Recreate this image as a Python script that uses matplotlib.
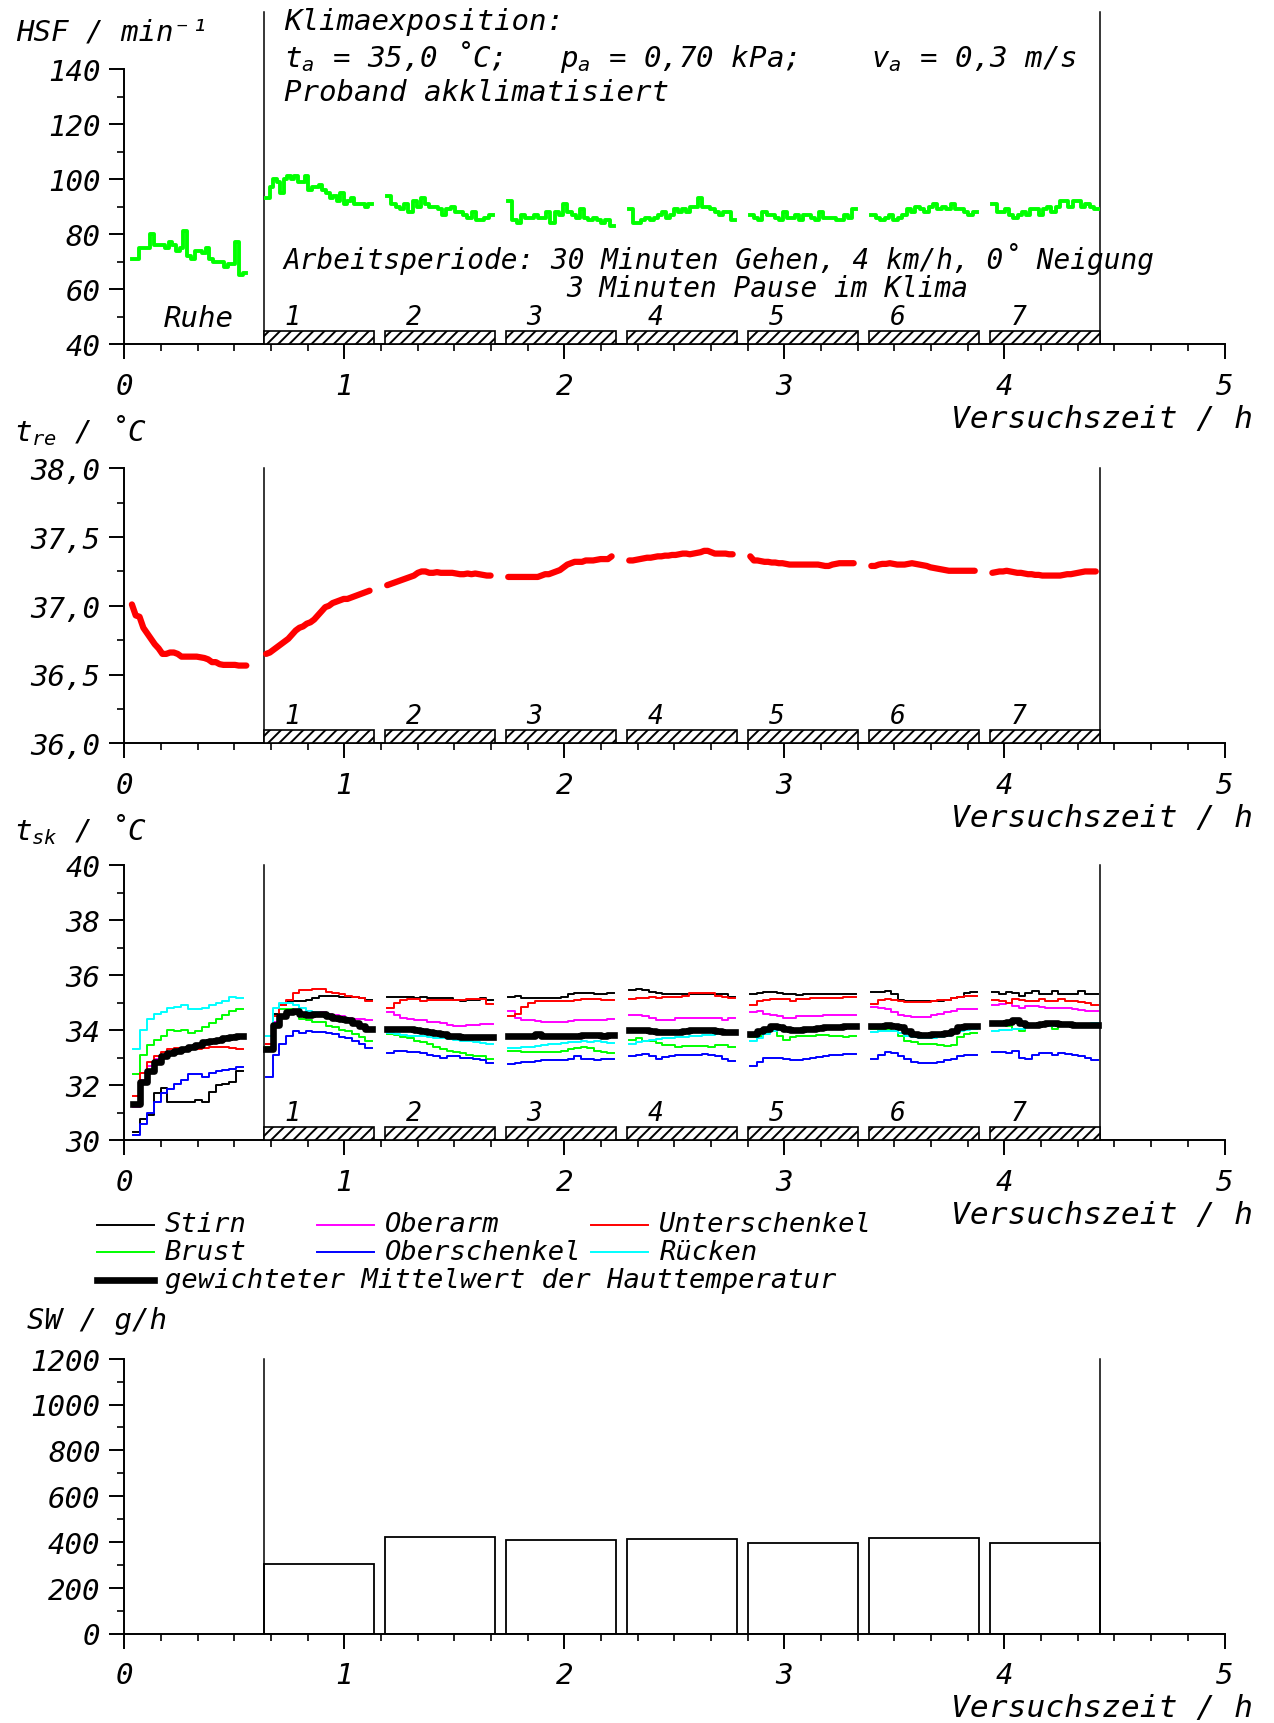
import numpy as np
import matplotlib.pyplot as plt
from matplotlib.lines import Line2D
from matplotlib.ticker import MultipleLocator

plt.rcParams['font.family'] = ['DejaVu Sans Mono', 'DejaVu Sans']
plt.rcParams['font.style'] = 'oblique'
plt.rcParams['mathtext.fontset'] = 'custom'
plt.rcParams['mathtext.rm'] = 'DejaVu Sans Mono:oblique'
plt.rcParams['mathtext.it'] = 'DejaVu Sans Mono:oblique'
plt.rcParams['hatch.linewidth'] = 1.4

# --- time structure (h) ---
work_start = 0.635
work_len = 0.5
pause_len = 0.05
n_work = 7
period_starts = work_start + np.arange(n_work) * (work_len + pause_len)
exp_end = period_starts[-1] + work_len

# --- heart rate HSF / min^-1 ---
hsf_rest = [71, 71, 75, 75, 75, 80, 76, 76, 76, 75, 77, 76, 74, 75, 81, 72,
            71, 74, 74, 73, 75, 71, 70, 70, 70, 68, 69, 69, 77, 65, 66]
hsf_work = [
    [93, 97, 100, 99, 95, 100, 101, 100, 101, 99, 99, 101, 96, 97, 97, 98,
     96, 95, 93, 94, 92, 95, 91, 92, 93, 91, 91, 91, 90, 91],
    [94, 91, 90, 89, 91, 88, 92, 90, 93, 91, 90, 90, 89, 87, 89, 90, 88, 88,
     87, 86, 88, 85, 85, 86, 87],
    [92, 85, 84, 87, 86, 86, 87, 86, 86, 88, 84, 88, 87, 91, 88, 87, 86, 89,
     86, 85, 86, 85, 84, 85, 83],
    [89, 84, 84, 85, 86, 85, 86, 87, 88, 86, 87, 89, 88, 89, 88, 90, 90, 93,
     90, 90, 89, 88, 87, 88, 88, 85],
    [87, 86, 85, 88, 87, 87, 86, 85, 88, 86, 86, 87, 85, 87, 87, 86, 85, 88,
     86, 86, 86, 85, 85, 87, 86, 89],
    [87, 86, 85, 86, 87, 85, 86, 87, 89, 88, 90, 89, 88, 90, 91, 89, 90, 89,
     91, 89, 89, 88, 87, 88],
    [91, 88, 88, 89, 87, 86, 87, 88, 87, 89, 89, 87, 89, 90, 88, 90, 92, 92,
     90, 92, 92, 90, 91, 90, 89],
]

# --- rectal temperature t_re / degC ---
tre_rest = [37.01, 36.93, 36.92, 36.84, 36.80, 36.76, 36.72, 36.69, 36.65,
            36.65, 36.66, 36.66, 36.65, 36.63, 36.63, 36.63, 36.63, 36.63,
            36.625, 36.62, 36.61, 36.59, 36.59, 36.575, 36.57, 36.57, 36.57,
            36.57, 36.565, 36.565, 36.565]
tre_work = [
    [36.65, 36.66, 36.68, 36.70, 36.72, 36.74, 36.76, 36.79, 36.82, 36.84,
     36.85, 36.87, 36.88, 36.90, 36.93, 36.96, 36.99, 37.00, 37.02, 37.03,
     37.04, 37.05, 37.05, 37.06, 37.07, 37.08, 37.09, 37.10, 37.11],
    [37.15, 37.16, 37.17, 37.18, 37.19, 37.20, 37.21, 37.22, 37.24, 37.25,
     37.25, 37.24, 37.24, 37.245, 37.24, 37.24, 37.24, 37.24, 37.235, 37.23,
     37.23, 37.235, 37.23, 37.235, 37.23, 37.225, 37.22, 37.22],
    [37.21, 37.21, 37.21, 37.21, 37.21, 37.21, 37.21, 37.21, 37.21, 37.22,
     37.23, 37.23, 37.24, 37.25, 37.26, 37.28, 37.30, 37.31, 37.32, 37.32,
     37.32, 37.33, 37.33, 37.33, 37.335, 37.34, 37.34, 37.34, 37.36],
    [37.33, 37.33, 37.335, 37.34, 37.345, 37.35, 37.35, 37.355, 37.36, 37.36,
     37.365, 37.365, 37.37, 37.37, 37.375, 37.38, 37.38, 37.375, 37.38,
     37.385, 37.39, 37.40, 37.40, 37.39, 37.38, 37.38, 37.38, 37.38, 37.375,
     37.375],
    [37.36, 37.33, 37.33, 37.325, 37.32, 37.32, 37.315, 37.315, 37.31, 37.31,
     37.305, 37.30, 37.30, 37.30, 37.30, 37.30, 37.30, 37.30, 37.30, 37.30,
     37.295, 37.29, 37.29, 37.30, 37.305, 37.31, 37.31, 37.31, 37.31, 37.31],
    [37.29, 37.29, 37.30, 37.305, 37.305, 37.31, 37.305, 37.30, 37.30, 37.30,
     37.305, 37.31, 37.305, 37.30, 37.295, 37.29, 37.28, 37.275, 37.27,
     37.265, 37.26, 37.255, 37.255, 37.255, 37.255, 37.255, 37.255, 37.255,
     37.255],
    [37.24, 37.245, 37.25, 37.25, 37.255, 37.25, 37.245, 37.24, 37.24, 37.235,
     37.23, 37.23, 37.225, 37.225, 37.22, 37.22, 37.22, 37.22, 37.22, 37.22,
     37.225, 37.23, 37.23, 37.235, 37.24, 37.245, 37.25, 37.25, 37.25, 37.25],
]

# --- skin temperatures t_sk / degC (rest, then 7 work periods) ---
stirn_rest = [30.3, 30.75, 30.9, 31.7, 31.9, 31.4, 31.4, 31.4, 31.4, 31.45,
              31.4, 31.75, 32.0, 32.05, 32.1, 32.5]
stirn_work = [
    [33.5, 34.6, 34.9, 35.05, 35.07, 35.07, 35.1, 35.15, 35.25, 35.23, 35.23,
     35.22, 35.22, 35.2, 35.15, 35.1],
    [35.2, 35.2, 35.2, 35.2, 35.15, 35.2, 35.15, 35.15, 35.15, 35.15, 35.1,
     35.05, 35.1, 35.1, 35.15, 35.1],
    [35.2, 35.25, 35.15, 35.15, 35.15, 35.15, 35.15, 35.15, 35.2, 35.3,
     35.35, 35.35, 35.35, 35.3, 35.3, 35.35],
    [35.45, 35.5, 35.45, 35.4, 35.35, 35.3, 35.3, 35.33, 35.33, 35.33, 35.33,
     35.33, 35.33, 35.33, 35.3, 35.2],
    [35.3, 35.35, 35.38, 35.38, 35.35, 35.3, 35.3, 35.28, 35.3, 35.32, 35.32,
     35.33, 35.33, 35.33, 35.33, 35.33],
    [35.4, 35.4, 35.42, 35.3, 35.1, 35.05, 35.05, 35.05, 35.05, 35.05, 35.05,
     35.1, 35.15, 35.2, 35.35, 35.4],
    [35.4, 35.3, 35.4, 35.35, 35.25, 35.35, 35.42, 35.3, 35.3, 35.42, 35.3,
     35.3, 35.3, 35.42, 35.3, 35.3],
]
oberarm_rest = [31.2, 32.2, 32.7, 32.95, 33.1, 33.2, 33.3, 33.3, 33.4, 33.5,
                33.6, 33.55, 33.6, 33.65, 33.7, 33.75]
oberarm_work = [
    [33.5, 34.3, 34.55, 34.65, 34.6, 34.6, 34.65, 34.65, 34.65, 34.6, 34.55,
     34.5, 34.45, 34.4, 34.4, 34.35],
    [34.65, 34.55, 34.45, 34.4, 34.35, 34.35, 34.3, 34.3, 34.25, 34.2, 34.15,
     34.15, 34.2, 34.2, 34.22, 34.22],
    [34.7, 34.45, 34.38, 34.35, 34.32, 34.3, 34.3, 34.3, 34.3, 34.32, 34.35,
     34.35, 34.35, 34.35, 34.38, 34.4],
    [34.55, 34.55, 34.5, 34.45, 34.35, 34.35, 34.35, 34.45, 34.45, 34.45,
     34.45, 34.45, 34.45, 34.45, 34.35, 34.45],
    [34.65, 34.7, 34.6, 34.55, 34.5, 34.45, 34.45, 34.5, 34.5, 34.5, 34.52,
     34.55, 34.55, 34.55, 34.55, 34.55],
    [34.85, 34.8, 34.75, 34.65, 34.55, 34.5, 34.48, 34.48, 34.48, 34.55, 34.6,
     34.65, 34.7, 34.75, 34.77, 34.78],
    [34.9, 34.95, 35.0, 34.88, 34.8, 34.88, 34.88, 34.85, 34.82, 34.82, 34.8,
     34.8, 34.78, 34.72, 34.7, 34.7],
]
unterschenkel_rest = [31.6, 32.45, 32.85, 33.05, 33.2, 33.3, 33.35, 33.35,
                      33.3, 33.3, 33.35, 33.37, 33.38, 33.38, 33.35, 33.3]
unterschenkel_work = [
    [33.5, 34.5, 34.9, 35.1, 35.35, 35.45, 35.45, 35.5, 35.5, 35.4, 35.35,
     35.3, 35.25, 35.2, 35.15, 35.05],
    [34.8, 35.0, 35.1, 35.12, 35.12, 35.07, 35.1, 35.1, 35.1, 35.1, 35.1,
     35.1, 35.12, 35.12, 35.12, 34.95],
    [34.5, 34.6, 34.85, 35.0, 35.05, 35.07, 35.05, 35.05, 35.07, 35.07, 35.1,
     35.12, 35.12, 35.12, 35.08, 35.08],
    [35.12, 35.15, 35.18, 35.2, 35.15, 35.2, 35.2, 35.22, 35.25, 35.35, 35.35,
     35.35, 35.35, 35.25, 35.2, 35.15],
    [34.9, 35.05, 35.1, 35.12, 35.12, 35.12, 35.07, 35.12, 35.14, 35.15,
     35.15, 35.18, 35.18, 35.18, 35.2, 35.2],
    [34.95, 35.1, 35.12, 35.1, 35.05, 35.02, 35.02, 35.02, 35.02, 35.05,
     35.08, 35.1, 35.15, 35.22, 35.23, 35.23],
    [35.1, 35.05, 35.0, 35.12, 35.1, 35.05, 35.07, 35.12, 35.07, 35.05,
     35.12, 35.07, 35.05, 35.02, 35.0, 34.9],
]
brust_rest = [32.4, 33.1, 33.45, 33.65, 33.8, 34.0, 33.95, 34.0, 33.88, 33.95,
              34.1, 34.25, 34.4, 34.55, 34.7, 34.78]
brust_work = [
    [33.4, 34.5, 34.75, 34.75, 34.6, 34.4, 34.35, 34.3, 34.3, 34.15, 34.1,
     34.0, 33.95, 33.85, 33.75, 33.6],
    [33.86, 33.82, 33.75, 33.7, 33.6, 33.55, 33.5, 33.4, 33.3, 33.25, 33.2,
     33.15, 33.1, 33.05, 33.05, 32.95],
    [33.25, 33.25, 33.2, 33.2, 33.2, 33.2, 33.2, 33.22, 33.25, 33.3, 33.35,
     33.37, 33.35, 33.25, 33.2, 33.15],
    [33.65, 33.72, 33.62, 33.6, 33.52, 33.45, 33.45, 33.4, 33.42, 33.42,
     33.42, 33.42, 33.4, 33.45, 33.45, 33.4],
    [33.75, 33.8, 33.9, 33.95, 33.8, 33.65, 33.75, 33.78, 33.8, 33.8, 33.82,
     33.82, 33.8, 33.8, 33.75, 33.8],
    [34.05, 34.02, 34.0, 33.95, 33.8, 33.6, 33.55, 33.5, 33.5, 33.48, 33.45,
     33.42, 33.45, 33.75, 33.85, 33.9],
    [34.2, 34.2, 34.15, 34.05, 33.98, 34.1, 34.15, 34.15, 34.15, 34.05,
     34.15, 34.15, 34.12, 34.12, 34.15, 34.15],
]
oberschenkel_rest = [30.2, 30.6, 31.0, 31.4, 31.7, 31.85, 32.05, 32.2, 32.4,
                     32.4, 32.3, 32.45, 32.5, 32.55, 32.6, 32.65]
oberschenkel_work = [
    [32.3, 33.1, 33.5, 33.8, 33.98, 33.9, 33.95, 33.92, 33.92, 33.9, 33.85,
     33.75, 33.7, 33.6, 33.5, 33.35],
    [33.15, 33.25, 33.25, 33.22, 33.2, 33.15, 33.1, 33.05, 33.0, 33.05,
     33.05, 33.0, 33.0, 32.95, 32.9, 32.8],
    [32.78, 32.8, 32.85, 32.85, 32.88, 32.9, 32.9, 32.9, 32.92, 32.95, 33.05,
     32.95, 32.95, 32.9, 32.95, 32.95],
    [33.05, 33.1, 33.12, 33.05, 32.95, 33.02, 33.05, 33.1, 33.08, 33.08, 33.1,
     33.12, 33.08, 33.05, 32.95, 32.88],
    [32.7, 32.85, 33.0, 33.0, 32.98, 32.95, 32.9, 32.92, 32.95, 32.98, 33.02,
     33.05, 33.08, 33.1, 33.12, 33.12],
    [32.95, 33.1, 33.2, 33.15, 33.05, 32.95, 32.85, 32.82, 32.82, 32.82,
     32.85, 32.9, 32.95, 33.05, 33.1, 33.1],
    [33.2, 33.2, 33.18, 33.25, 33.0, 32.95, 33.1, 33.15, 33.15, 33.1, 33.15,
     33.12, 33.08, 33.05, 32.98, 32.92],
]
ruecken_rest = [33.3, 34.0, 34.4, 34.6, 34.65, 34.8, 34.85, 34.9, 34.78,
                34.78, 34.8, 34.9, 35.0, 35.07, 35.2, 35.15]
ruecken_work = [
    [33.8, 34.8, 35.0, 35.0, 34.9, 34.8, 34.7, 34.65, 34.6, 34.55, 34.45,
     34.4, 34.35, 34.25, 34.15, 34.0],
    [33.88, 33.85, 33.82, 33.8, 33.8, 33.78, 33.75, 33.72, 33.7, 33.68,
     33.65, 33.62, 33.6, 33.55, 33.52, 33.5],
    [33.35, 33.35, 33.38, 33.4, 33.42, 33.45, 33.48, 33.5, 33.52, 33.55,
     33.58, 33.6, 33.58, 33.6, 33.55, 33.52],
    [33.5, 33.58, 33.62, 33.65, 33.68, 33.7, 33.72, 33.74, 33.76, 33.78, 33.8,
     33.82, 33.82, 33.85, 33.88, 33.9],
    [33.6, 33.7, 33.85, 33.98, 34.0, 34.0, 34.0, 34.02, 34.05, 34.05, 34.05,
     34.08, 34.1, 34.1, 34.1, 34.1],
    [33.92, 33.95, 33.98, 33.95, 33.9, 33.8, 33.75, 33.72, 33.72, 33.72,
     33.75, 33.8, 33.9, 33.98, 34.02, 34.05],
    [33.98, 34.0, 34.02, 34.05, 34.05, 34.1, 34.12, 34.15, 34.15, 34.15,
     34.17, 34.2, 34.2, 34.2, 34.22, 34.25],
]
mittel_rest = [31.3, 32.1, 32.5, 32.85, 33.05, 33.15, 33.25, 33.3, 33.4,
               33.45, 33.55, 33.6, 33.65, 33.72, 33.75, 33.8]
mittel_work = [
    [33.3, 34.2, 34.5, 34.65, 34.7, 34.6, 34.55, 34.6, 34.6, 34.5, 34.45,
     34.4, 34.35, 34.25, 34.15, 34.05],
    [34.05, 34.05, 34.05, 34.03, 34.0, 33.97, 33.93, 33.9, 33.85, 33.8, 33.78,
     33.75, 33.73, 33.75, 33.75, 33.73],
    [33.8, 33.78, 33.78, 33.8, 33.85, 33.8, 33.78, 33.78, 33.8, 33.8, 33.8,
     33.82, 33.82, 33.82, 33.8, 33.82],
    [34.0, 34.0, 34.0, 33.95, 33.92, 33.92, 33.92, 33.92, 33.95, 34.0, 34.0,
     34.0, 34.0, 33.95, 33.92, 33.92],
    [33.85, 33.95, 34.05, 34.15, 34.12, 34.05, 34.02, 34.02, 34.05, 34.05,
     34.08, 34.1, 34.12, 34.12, 34.15, 34.15],
    [34.15, 34.15, 34.2, 34.15, 34.1, 33.95, 33.85, 33.82, 33.82, 33.85,
     33.85, 33.88, 33.95, 34.1, 34.15, 34.15],
    [34.25, 34.25, 34.3, 34.35, 34.25, 34.2, 34.18, 34.22, 34.25, 34.25,
     34.22, 34.22, 34.2, 34.18, 34.18, 34.18],
]

# --- sweat rate SW / g/h per work period ---
sw_values = [303, 423, 408, 412, 396, 418, 396]

# --- tick labels ---
x_labels = ['0', '1', '2', '3', '4', '5']
hsf_ticks = [40, 60, 80, 100, 120, 140]
tre_ticks = [36.0, 36.5, 37.0, 37.5, 38.0]
tre_labels = ['36,0', '36,5', '37,0', '37,5', '38,0']
tsk_ticks = [30, 32, 34, 36, 38, 40]
sw_ticks = [0, 200, 400, 600, 800, 1000, 1200]

skin_names = ['Stirn', 'Brust', 'Oberarm', 'Oberschenkel', 'Unterschenkel', 'R\u00fccken']
skin_colors = ['black', '#00ff00', '#ff00ff', '#0000ff', '#ff0000', '#00ffff']
skin_rest = [stirn_rest, brust_rest, oberarm_rest, oberschenkel_rest,
             unterschenkel_rest, ruecken_rest]
skin_work = [stirn_work, brust_work, oberarm_work, oberschenkel_work,
             unterschenkel_work, ruecken_work]

DEG = '\u02da'
W, H = 1274, 1724
fig = plt.figure(figsize=(W / 100, H / 100), dpi=100)


def panel(top_px):
    left, right, bottom = 124.2, 1224.5, top_px + 274.8
    return fig.add_axes([left / W, 1 - bottom / H, (right - left) / W, 274.8 / H])


def style(ax, ticks, labels, minor):
    ax.set_xlim(0, 5)
    ax.set_ylim(ticks[0], ticks[-1])
    ax.spines['top'].set_visible(False)
    ax.spines['right'].set_visible(False)
    for s in ('left', 'bottom'):
        ax.spines[s].set_linewidth(1.4)
    ax.set_xticks(range(6))
    ax.set_xticklabels(x_labels)
    ax.xaxis.set_minor_locator(MultipleLocator(1 / 6))
    ax.set_yticks(ticks)
    ax.set_yticklabels(labels)
    ax.yaxis.set_minor_locator(MultipleLocator(minor))
    ax.tick_params(which='major', direction='out', length=11, width=1.4, labelsize=21)
    ax.tick_params(which='minor', direction='out', length=5, width=1.2)
    ax.tick_params(axis='x', pad=9)
    ax.tick_params(axis='y', pad=6)
    ax.patch.set_alpha(0)
    ax.text(1.026, -0.27, 'Versuchszeit / h', transform=ax.transAxes,
            ha='right', va='center', fontsize=22.5)


def exposure_lines(ax, top=1.0):
    for x in (work_start, exp_end):
        ax.axvline(x, 0, top, color='black', lw=1.1, clip_on=False)


def work_bars(ax):
    y0, y1 = ax.get_ylim()
    ax.bar(period_starts, 0.048 * (y1 - y0), width=work_len, bottom=y0, align='edge',
           facecolor='white', edgecolor='black', hatch='///', lw=1.2, zorder=3)
    for i, p in enumerate(period_starts):
        ax.text(p + 0.13, y0 + 0.10 * (y1 - y0), str(i + 1), ha='center',
                va='center', fontsize=19)


def draw_steps(ax, rest, work, rest_span, work_off, **kw):
    segs = [(rest_span, rest)] + [((p + work_off[0], p + work_off[1]), w)
                                  for p, w in zip(period_starts, work)]
    for (t0, t1), v in segs:
        t = np.linspace(t0, t1, len(v) + 1)
        ax.plot(t, np.append(v, v[-1]), drawstyle='steps-post', **kw)


# ---- panel 1: heart rate ----
ax1 = panel(70.3)
style(ax1, hsf_ticks, [str(v) for v in hsf_ticks], 10)
exposure_lines(ax1, top=1.208)
work_bars(ax1)
draw_steps(ax1, hsf_rest, hsf_work, (0.034, 0.555), (0.01, 0.49),
           color='#00ff00', lw=2.8)
ax1.text(-0.098, 1.136, 'HSF / min\u207b\u00b9', transform=ax1.transAxes,
         ha='left', va='center', fontsize=21)
ax1.text(0.145, 1.176, 'Klimaexposition:', transform=ax1.transAxes,
         ha='left', va='center', fontsize=21)
ax1.text(0.145, 1.048, '$t_a$ = 35,0 ' + DEG + 'C;   $p_a$ = 0,70 kPa;    $v_a$ = 0,3 m/s',
         transform=ax1.transAxes, ha='left', va='center', fontsize=21)
ax1.text(0.145, 0.916, 'Proband akklimatisiert', transform=ax1.transAxes,
         ha='left', va='center', fontsize=21)
ax1.text(0.145, 0.312, 'Arbeitsperiode: 30 Minuten Gehen, 4 km/h, 0' + DEG + ' Neigung',
         transform=ax1.transAxes, ha='left', va='center', fontsize=20)
ax1.text(0.4015, 0.204, '3 Minuten Pause im Klima', transform=ax1.transAxes,
         ha='left', va='center', fontsize=20)
ax1.text(0.0678, 0.096, 'Ruhe', transform=ax1.transAxes, ha='center',
         va='center', fontsize=21)

# ---- panel 2: rectal temperature ----
ax2 = panel(469.4)
style(ax2, tre_ticks, tre_labels, 0.25)
exposure_lines(ax2)
work_bars(ax2)
ax2.plot(np.linspace(0.035, 0.555, len(tre_rest)), tre_rest, color='#ff0000',
         lw=4.5, solid_capstyle='round')
for p, w in zip(period_starts, tre_work):
    ax2.plot(np.linspace(p + 0.01, p + 0.48, len(w)), w, color='#ff0000', lw=4.5,
             solid_capstyle='round')
ax2.text(-0.1, 1.14, '$t_{re}$ / ' + DEG + 'C',
         transform=ax2.transAxes, ha='left', va='center', fontsize=21)

# ---- panel 3: skin temperatures ----
ax3 = panel(866.2)
style(ax3, tsk_ticks, [str(v) for v in tsk_ticks], 1)
exposure_lines(ax3)
work_bars(ax3)
for rest, work, c in zip(skin_rest, skin_work, skin_colors):
    draw_steps(ax3, rest, work, (0.04, 0.54), (0.01, 0.49), color=c, lw=1.4)
draw_steps(ax3, mittel_rest, mittel_work, (0.04, 0.54), (0.01, 0.49),
           color='black', lw=4.8, zorder=4)
ax3.text(-0.1, 1.135, '$t_{sk}$ / ' + DEG + 'C',
         transform=ax3.transAxes, ha='left', va='center', fontsize=21)

# legend drawn below panel 3
col_x = [96.7, 316.6, 591.4]
row_y = [1225.5, 1253.1]
for i, (name, c) in enumerate(zip(skin_names, skin_colors)):
    x0, y = col_x[i // 2], row_y[i % 2]
    fig.add_artist(Line2D([x0 / W, (x0 + 57) / W], [1 - y / H, 1 - y / H],
                          color=c, lw=1.4))
    fig.text((x0 + 68) / W, 1 - y / H, name, ha='left', va='center', fontsize=19.5)
fig.add_artist(Line2D([96.7 / W, 153.7 / W], [1 - 1280.5 / H, 1 - 1280.5 / H],
                      color='black', lw=4.8))
fig.text(164.7 / W, 1 - 1280.5 / H, 'gewichteter Mittelwert der Hauttemperatur',
         ha='left', va='center', fontsize=19.5)

# ---- panel 4: sweat rate ----
ax4 = panel(1359.7)
style(ax4, sw_ticks, [str(v) for v in sw_ticks], 100)
exposure_lines(ax4)
ax4.bar(period_starts, sw_values, width=work_len, align='edge',
        facecolor='white', edgecolor='black', lw=1.3)
ax4.text(-0.088, 1.141, 'SW / g/h', transform=ax4.transAxes, ha='left',
         va='center', fontsize=21)

fig.savefig('out.png', dpi=100)
